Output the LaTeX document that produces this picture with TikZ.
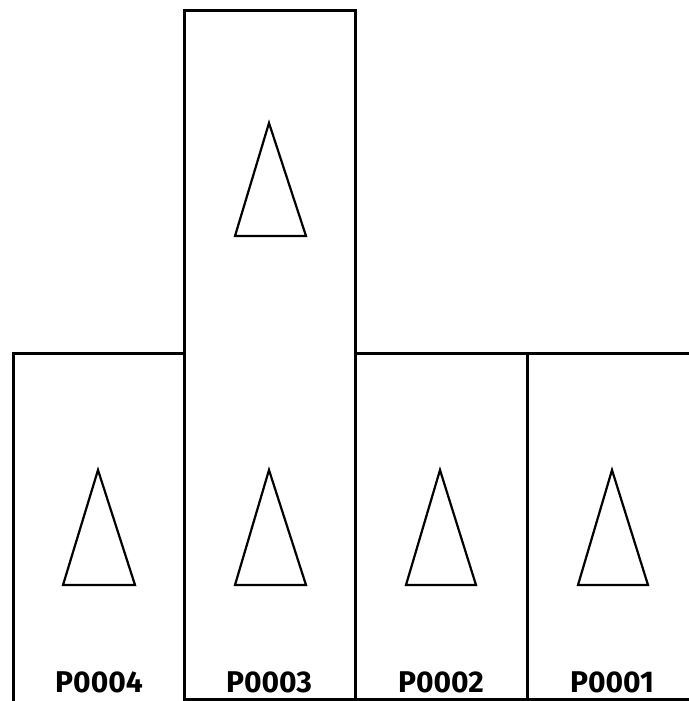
\documentclass[tikz,border=0pt]{standalone}
\usepackage{fontspec}
\setmainfont{Fira Sans}
\begin{document}
\begin{tikzpicture}[x=1pt,y=-1pt,
  boxline/.style={line width=3pt, line cap=rect},
  tri/.style={line width=2.2pt, line join=miter},
  lab/.style={anchor=base, inner sep=0pt, font=\fontsize{30}{31}\selectfont\bfseries}]
\useasboundingbox (0,0) rectangle (688,701);
% boxes
\draw[boxline] (13,699) -- (13,353) -- (184,353);
\draw[boxline] (184,699) -- (184,11) -- (355,11) -- (355,699);
\draw[boxline] (355,353) -- (690,353);
\draw[boxline] (527,353) -- (527,699);
\draw[boxline] (184,699) -- (690,699);
% triangles
\draw[tri] (269,123) -- (306,236) -- (235,236) -- cycle;
\draw[tri] (98,470) -- (135,585) -- (63,585) -- cycle;
\draw[tri] (269,470) -- (306,585) -- (235,585) -- cycle;
\draw[tri] (440,470) -- (476,585) -- (406,585) -- cycle;
\draw[tri] (612,470) -- (648,585) -- (578,585) -- cycle;
% labels
\node[lab] (p4) at (99,692) {P0004};
\node[lab] (p3) at (269,692) {P0003};
\node[lab] (p2) at (441,692) {P0002};
\node[lab] (p1) at (612,692) {P0001};
\end{tikzpicture}
\end{document}
